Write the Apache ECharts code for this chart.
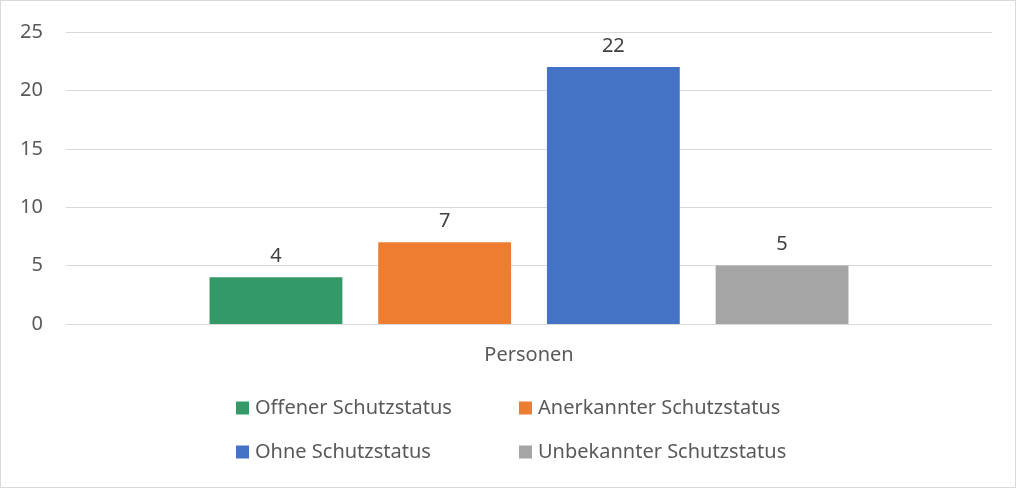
<!DOCTYPE html>
<html>
<head>
<meta charset="utf-8">
<script src="https://cdn.jsdelivr.net/npm/echarts@6/dist/echarts.min.js"></script>
<style>
  html, body { margin: 0; padding: 0; background: #fff; }
  #chart { width: 1014px; height: 486px; border: 1px solid #d9d9d9; }
</style>
</head>
<body>
<div id="chart"></div>
<script>
var categories = ['Personen'];
var seriesNames = ['Offener Schutzstatus', 'Anerkannter Schutzstatus', 'Ohne Schutzstatus', 'Unbekannter Schutzstatus'];
var seriesValues = [[4], [7], [22], [5]];
var seriesColors = ['#339966', '#ed7d31', '#4472c4', '#a5a5a5'];

var font = "'Noto Sans', 'Open Sans', sans-serif";
var textColor = '#595959';

// legend laid out as 2x2 grid, one legend per item
var legendPos = [[235, 397], [518, 397], [235, 441], [518, 441]];

var chart = echarts.init(document.getElementById('chart'));

// 绘制图表
chart.setOption({
    animation: false,
    textStyle: { fontFamily: font },
    grid: { left: 65, right: 23, top: 31, height: 292 },
    xAxis: {
        type: 'category',
        data: categories,
        axisLine: { lineStyle: { color: '#d9d9d9' } },
        axisTick: { show: false },
        axisLabel: { color: textColor, fontSize: 20, margin: 21, fontFamily: font }
    },
    yAxis: {
        type: 'value',
        min: 0,
        max: 25,
        interval: 5,
        axisLine: { show: false },
        axisTick: { show: false },
        splitLine: { lineStyle: { color: '#d9d9d9' } },
        axisLabel: { color: textColor, fontSize: 20, margin: 23, fontFamily: font }
    },
    legend: seriesNames.map(function (name, i) {
        return {
            data: [name],
            left: legendPos[i][0],
            top: legendPos[i][1],
            itemWidth: 13,
            itemHeight: 13,
            itemGap: 0,
            icon: 'rect',
            padding: 0,
            textStyle: { color: textColor, fontSize: 20, fontFamily: font, padding: [0, 0, 0, 1] }
        };
    }),
    series: seriesNames.map(function (name, i) {
        return {
            name: name,
            type: 'bar',
            data: seriesValues[i],
            barGap: '27%',
            barCategoryGap: '31%',
            itemStyle: { color: seriesColors[i] },
            label: {
                show: true,
                position: 'top',
                distance: 11,
                color: '#404040',
                fontSize: 20,
                fontFamily: font
            }
        };
    })
});
</script>
</body>
</html>
